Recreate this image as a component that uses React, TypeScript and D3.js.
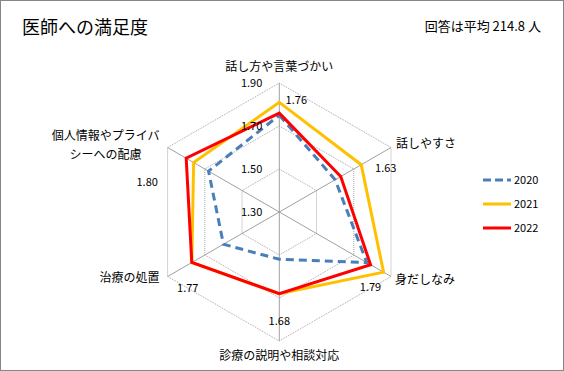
import React from 'react';
import * as d3 from 'd3';

const categories = ['話し方や言葉づかい', '話しやすさ', '身だしなみ', '診療の説明や相談対応', '治療の処置', '個人情報やプライバシーへの配慮'];
const seriesNames = ['2020', '2021', '2022'];
const values2020 = [1.75, 1.60, 1.77, 1.52, 1.60, 1.68];
const values2021 = [1.81, 1.74, 1.86, 1.68, 1.77, 1.76];
const values2022 = [1.76, 1.63, 1.79, 1.68, 1.77, 1.80];
const ticks = [1.3, 1.5, 1.7, 1.9];

const W = 564;
const H = 371;
const cx = 279.3;
const cy = 212;
const R = 129;
const FONT = '"Noto Sans CJK JP", "Noto Sans", sans-serif';

const colors = ['#4A7EBB', '#FFC000', '#FF0000'];

// label offsets (relative to the 2022 point) for the data labels
const labelOffsets: [number, number][] = [[17, -13], [45, -9], [0, 22], [0, 27], [-4, 25], [-39, 24]];

const App: React.FC = () => {
  const r = d3.scaleLinear().domain([1.3, 1.9]).range([0, R]);
  const angle = d3.scaleLinear().domain([0, categories.length]).range([0, 2 * Math.PI]);
  const pt = (i: number, v: number): [number, number] => {
    const a = angle(i);
    return [cx + r(v) * Math.sin(a), cy - r(v) * Math.cos(a)];
  };

  const line = d3.line<[number, number]>().curve(d3.curveLinearClosed);
  const series = [values2020, values2021, values2022];

  const ring = (t: number) => line(categories.map((_, i) => pt(i, t)));

  return (
    <div style={{ position: 'absolute', left: 0, top: 0 }}>
      <svg width={W} height={H} style={{ display: 'block', fontFamily: FONT }}>
        <rect x={0.5} y={0.5} width={W - 1} height={H - 1} fill="#fff" stroke="#868686" />
        <text x={22} y={34} fontSize={18} fill="#000">医師への満足度</text>
        <text x={541} y={31} fontSize={13} textAnchor="end" fill="#000">回答は平均 214.8 人</text>

        {/* grid rings */}
        {ticks.slice(1).map(t => (
          <path key={t} d={ring(t) || ''} fill="none" stroke="#a6a6a6" strokeDasharray="1 1" />
        ))}
        {/* spokes */}
        {categories.map((_, i) => {
          const [x, y] = pt(i, 1.9);
          return <line key={i} x1={cx} y1={cy} x2={x} y2={y} stroke="#a0a0a0" />;
        })}

        {/* series */}
        {series.map((vals, s) => (
          <path
            key={s}
            d={line(vals.map((v, i) => pt(i, v))) || ''}
            fill="none"
            stroke={colors[s]}
            strokeWidth={3}
            strokeLinejoin="miter"
            strokeDasharray={s === 0 ? '8 5' : undefined}
          />
        ))}

        {/* tick labels */}
        {ticks.map(t => (
          <text key={t} x={cx - 17} y={cy - r(t) + 4} fontSize={11} textAnchor="end" fill="#000">
            {t.toFixed(2)}
          </text>
        ))}

        {/* data labels (2022) */}
        {values2022.map((v, i) => {
          const [x, y] = pt(i, v);
          return (
            <text key={i} x={x + labelOffsets[i][0]} y={y + labelOffsets[i][1] + 4} fontSize={11} textAnchor="middle" fill="#000">
              {v.toFixed(2)}
            </text>
          );
        })}

        {/* category labels */}
        {(() => {
          const [x0, y0] = pt(0, 1.9);
          const [x1, y1] = pt(1, 1.9);
          const [x2, y2] = pt(2, 1.9);
          const [x3, y3] = pt(3, 1.9);
          const [x4, y4] = pt(4, 1.9);
          const [x5, y5] = pt(5, 1.9);
          return (
            <g fontSize={12} fill="#000">
              <text x={x0} y={y0 - 12} textAnchor="middle">{categories[0]}</text>
              <text x={x1 + 5} y={y1 + 0} textAnchor="start">{categories[1]}</text>
              <text x={x2 + 4} y={y2 + 7} textAnchor="start">{categories[2]}</text>
              <text x={x3} y={y3 + 19} textAnchor="middle">{categories[3]}</text>
              <text x={x4 - 8} y={y4 + 5} textAnchor="end">{categories[4]}</text>
              <text x={x5 - 62} y={y5 - 8} textAnchor="middle">
                <tspan x={x5 - 62}>{categories[5].slice(0, 9)}</tspan>
                <tspan x={x5 - 62} dy={19}>{categories[5].slice(9)}</tspan>
              </text>
            </g>
          );
        })()}

        {/* legend */}
        {seriesNames.map((n, s) => (
          <g key={n} transform={`translate(483, ${180 + s * 24})`}>
            <line x1={0} x2={28} y1={0} y2={0} stroke={colors[s]} strokeWidth={3}
              strokeDasharray={s === 0 ? '8 4' : undefined} />
            <text x={31} y={4} fontSize={11} fill="#000">{n}</text>
          </g>
        ))}
      </svg>
    </div>
  );
};

export default App;
